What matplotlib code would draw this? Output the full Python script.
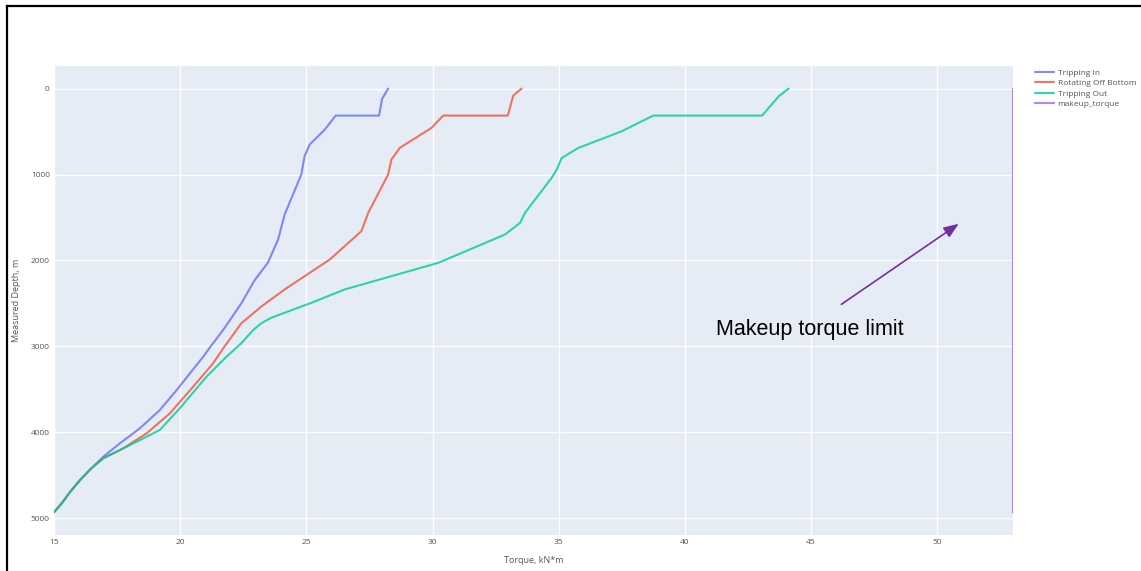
import numpy as np
import matplotlib
matplotlib.use("Agg")
import matplotlib.pyplot as plt
from matplotlib.lines import Line2D

# torque vs measured depth for each operation
depth_in = [0, 120, 314, 314, 477, 651, 787, 1000, 1465, 1756, 2023, 2230, 2500,
            2810, 3003, 3121, 3275, 3508, 3741, 3953, 4128, 4284, 4421, 4555,
            4700, 4820, 4930]
torque_in = [28.24, 28.0, 27.88, 26.16, 25.73, 25.13, 24.93, 24.80, 24.14, 23.88,
             23.48, 22.95, 22.42, 21.70, 21.2, 20.91, 20.49, 19.86, 19.19, 18.40,
             17.61, 16.95, 16.47, 16.03, 15.62, 15.32, 15.0]

depth_rot = [0, 80, 314, 314, 457, 690, 826, 1000, 1446, 1659, 1988, 2337, 2537,
             2731, 2810, 3003, 3198, 3470, 3779, 4012, 4186, 4302, 4421, 4555,
             4700, 4820, 4930]
torque_rot = [33.53, 33.2, 32.98, 30.42, 29.96, 28.70, 28.37, 28.24, 27.45, 27.18,
              25.93, 24.14, 23.21, 22.42, 22.23, 21.75, 21.30, 20.51, 19.59, 18.67,
              17.74, 16.95, 16.47, 16.03, 15.62, 15.32, 15.0]

depth_out = [0, 89, 314, 314, 380, 496, 690, 806, 942, 1038, 1446, 1562, 1698,
             2027, 2337, 2492, 2666, 2731, 2810, 2964, 3121, 3353, 3721, 3973,
             4090, 4206, 4302, 4421, 4555, 4700, 4820, 4930]
torque_out = [44.11, 43.72, 43.06, 38.75, 38.29, 37.5, 35.78, 35.12, 34.92, 34.72,
              33.66, 33.47, 32.87, 30.23, 26.52, 25.2, 23.61, 23.21, 22.89, 22.42,
              21.83, 21.04, 19.98, 19.19, 18.40, 17.61, 16.95, 16.47, 16.03, 15.62,
              15.32, 15.0]

makeup_torque = 53.0
makeup_depth = [0, 4930]

series = [
    ("Tripping In", torque_in, depth_in, "#636EFA"),
    ("Rotating Off Bottom", torque_rot, depth_rot, "#EF553B"),
    ("Tripping Out", torque_out, depth_out, "#00CC96"),
]

plt.rcParams['font.family'] = ['Open Sans', 'DejaVu Sans']

fig = plt.figure(figsize=(11.41, 5.71), dpi=100)
ax = fig.add_axes([54/1141, 1-535/571, (1013-54)/1141, (535-66)/571])
ax.set_facecolor("#E5ECF6")

for name, t, d, c in series:
    ax.plot(t, d, color=c, lw=1.5, alpha=0.8, label=name,
            solid_joinstyle="round", solid_capstyle="round")
ax.plot([makeup_torque, makeup_torque], makeup_depth, color="#AB63FA", lw=1.5,
        alpha=0.8, label="makeup_torque")

ax.set_xlim(15, makeup_torque)
ax.set_ylim(5194, -263)
ax.set_xticks(np.arange(15, 51, 5))
ax.set_yticks(np.arange(0, 5001, 1000))
ax.grid(True, color="white", lw=1)
ax.set_axisbelow(True)
for s in ax.spines.values():
    s.set_visible(False)
ax.tick_params(length=0, labelsize=6, colors="#555555", pad=3)
ax.set_xlabel("Torque, kN*m", fontsize=6.5, color="#555555")
ax.set_ylabel("Measured Depth, m", fontsize=6.5, color="#555555")
ax.xaxis.set_label_coords(0.5, -0.045)
ax.yaxis.set_label_coords(-0.034, 0.5)

leg = ax.legend(loc="upper left", bbox_to_anchor=(1035/1141, 1-69/571),
                bbox_transform=fig.transFigure, frameon=False, fontsize=6,
                handlelength=2.3, handletextpad=0.4, labelspacing=0.3,
                borderpad=0, borderaxespad=0)
for txt in leg.get_texts():
    txt.set_color("#555555")

# arrow pointing at the makeup torque limit
ax.annotate("", xy=(50.85, 1573), xytext=(46.2, 2510),
            arrowprops=dict(arrowstyle="-|>,head_length=0.9,head_width=0.35",
                            color="#7030A0", lw=1.2, shrinkA=0, shrinkB=0))
ax.text(44.95, 2800, "Makeup torque limit", fontsize=15.5, color="black",
        family="Liberation Sans", ha="center", va="center")

# frame lines on the left and top edges
fig.add_artist(Line2D([6.5/1141, 6.5/1141], [0, 1-5.5/571], color="black", lw=1.6,
                      transform=fig.transFigure))
fig.add_artist(Line2D([6.5/1141, 1], [1-5.5/571, 1-5.5/571], color="black", lw=1.6,
                      transform=fig.transFigure))

fig.savefig("out.png", dpi=100)
